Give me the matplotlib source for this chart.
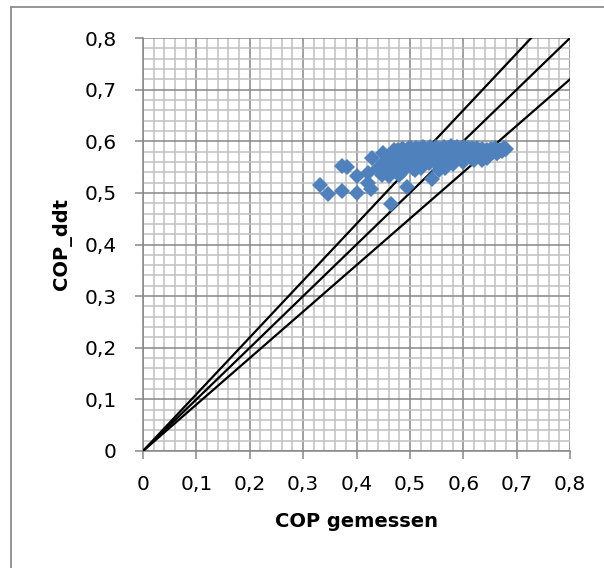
import matplotlib
matplotlib.use("Agg")
import matplotlib.pyplot as plt
from matplotlib.lines import Line2D
from matplotlib.ticker import MultipleLocator, FuncFormatter

# Measured COP vs. COP from the ddt model
cop_gemessen = [
    0.331, 0.346, 0.373, 0.373, 0.382, 0.400, 0.401, 0.422, 0.427, 0.422,
    0.429, 0.449, 0.465, 0.494, 0.541, 0.635, 0.678, 0.664,
    0.440, 0.447, 0.460, 0.555, 0.565, 0.580, 0.600, 0.620, 0.645, 0.510,
    0.520, 0.480,
    0.452, 0.455, 0.458, 0.462, 0.465, 0.468, 0.470, 0.473, 0.476, 0.478,
    0.480, 0.483, 0.485, 0.487, 0.489, 0.491, 0.493, 0.495, 0.497, 0.499,
    0.501, 0.503, 0.505, 0.507, 0.509, 0.511, 0.513, 0.515, 0.517, 0.519,
    0.521, 0.523, 0.525, 0.527, 0.529, 0.531, 0.533, 0.535, 0.537, 0.539,
    0.541, 0.543, 0.545, 0.547, 0.549, 0.551, 0.553, 0.555, 0.557, 0.559,
    0.561, 0.563, 0.565, 0.567, 0.569, 0.571, 0.573, 0.575, 0.577, 0.579,
    0.581, 0.583, 0.585, 0.587, 0.589, 0.591, 0.593, 0.595, 0.597, 0.599,
    0.601, 0.603, 0.605, 0.608, 0.611, 0.614, 0.617, 0.620, 0.623, 0.626,
    0.629, 0.632, 0.636, 0.640, 0.644, 0.648, 0.652, 0.656, 0.660, 0.664,
    0.668, 0.672, 0.676, 0.680,
    0.470, 0.478, 0.486, 0.494, 0.502, 0.510, 0.518, 0.526, 0.534, 0.542,
    0.550, 0.558, 0.566, 0.574, 0.582, 0.590, 0.598, 0.606, 0.614, 0.622,
    0.474, 0.482, 0.490, 0.498, 0.506, 0.514, 0.522, 0.530, 0.538, 0.546,
    0.554, 0.562, 0.570, 0.578, 0.586, 0.594, 0.602, 0.610, 0.618, 0.626,
    0.634, 0.642, 0.650,
]
cop_ddt = [
    0.516, 0.497, 0.504, 0.552, 0.550, 0.499, 0.532, 0.520, 0.508, 0.539,
    0.567, 0.578, 0.478, 0.511, 0.527, 0.564, 0.585, 0.578,
    0.548, 0.535, 0.532, 0.545, 0.548, 0.556, 0.560, 0.563, 0.568, 0.545,
    0.548, 0.535,
    0.560, 0.545, 0.570, 0.552, 0.538, 0.575, 0.560, 0.546, 0.582, 0.566,
    0.552, 0.574, 0.540, 0.585, 0.562, 0.548, 0.578, 0.568, 0.555, 0.586,
    0.572, 0.560, 0.548, 0.580, 0.566, 0.587, 0.556, 0.575, 0.563, 0.584,
    0.570, 0.552, 0.588, 0.578, 0.562, 0.583, 0.571, 0.557, 0.589, 0.576,
    0.565, 0.584, 0.572, 0.560, 0.588, 0.578, 0.566, 0.552, 0.585, 0.574,
    0.562, 0.589, 0.580, 0.568, 0.555, 0.586, 0.575, 0.563, 0.590, 0.581,
    0.570, 0.587, 0.576, 0.565, 0.589, 0.582, 0.572, 0.587, 0.578, 0.568,
    0.588, 0.580, 0.571, 0.586, 0.578, 0.568, 0.587, 0.579, 0.570, 0.586,
    0.578, 0.572, 0.585, 0.578, 0.583, 0.576, 0.585, 0.579, 0.586, 0.578,
    0.584, 0.581, 0.587, 0.585,
    0.583, 0.584, 0.585, 0.583, 0.586, 0.584, 0.585, 0.586, 0.584, 0.585,
    0.586, 0.584, 0.585, 0.586, 0.584, 0.585, 0.584, 0.585, 0.583, 0.584,
    0.566, 0.567, 0.565, 0.566, 0.568, 0.567, 0.566, 0.568, 0.567, 0.566,
    0.568, 0.567, 0.569, 0.568, 0.570, 0.571, 0.570, 0.572, 0.573, 0.574,
    0.573, 0.575, 0.576,
]

# Reference lines: +10 %, identity, -10 %
line_factors = [1.1, 1.0, 0.9]
axis_max = 0.8

W, H = 604, 568
fig = plt.figure(figsize=(W / 100, H / 100), dpi=100)
fig.patch.set_facecolor("white")

# chart-area border (left and top edges)
fig.add_artist(Line2D([10.5 / W, 10.5 / W], [0, 1 - 6.5 / H], transform=fig.transFigure,
                      color="#8c8c8c", lw=1.3))
fig.add_artist(Line2D([10.5 / W, 1], [1 - 6.5 / H, 1 - 6.5 / H], transform=fig.transFigure,
                      color="#8c8c8c", lw=1.3))

x0, x1 = 143, 570
y0, y1 = 451, 38
ax = fig.add_axes([x0 / W, 1 - y0 / H, (x1 - x0) / W, (y0 - y1) / H])
ax.set_xlim(0, axis_max)
ax.set_ylim(0, axis_max)

ax.xaxis.set_major_locator(MultipleLocator(0.1))
ax.yaxis.set_major_locator(MultipleLocator(0.1))
ax.xaxis.set_minor_locator(MultipleLocator(0.02))
ax.yaxis.set_minor_locator(MultipleLocator(0.02))

ax.grid(which="minor", color="#c0c0c0", lw=1.1)
ax.grid(which="major", color="#878787", lw=1.1)
ax.set_axisbelow(True)

for side in ("top", "right"):
    ax.spines[side].set_visible(False)
for side in ("left", "bottom"):
    ax.spines[side].set_color("#878787")
    ax.spines[side].set_linewidth(1.1)

fmt = FuncFormatter(lambda v, p: "0" if abs(v) < 1e-9 else f"{v:.1f}".replace(".", ","))
ax.xaxis.set_major_formatter(fmt)
ax.yaxis.set_major_formatter(fmt)
ax.tick_params(which="major", direction="out", length=6, width=1.1, color="#878787",
               labelsize=14.5, labelcolor="black")
ax.tick_params(axis="x", which="major", pad=11)
ax.tick_params(axis="y", which="major", pad=13)
ax.tick_params(which="minor", length=0)

for k in line_factors:
    ax.plot([0, axis_max], [0, k * axis_max], color="black", lw=1.6, zorder=3)

ax.plot(cop_gemessen, cop_ddt, linestyle="none", marker="D", markersize=8,
        color="#4f81bd", markeredgewidth=0, zorder=4, clip_on=False)

ax.set_xlabel("COP gemessen", fontsize=14, fontweight="bold", labelpad=13)
ax.set_ylabel("COP_ddt", fontsize=14, fontweight="bold", labelpad=9)

fig.savefig("out.png", dpi=100)
